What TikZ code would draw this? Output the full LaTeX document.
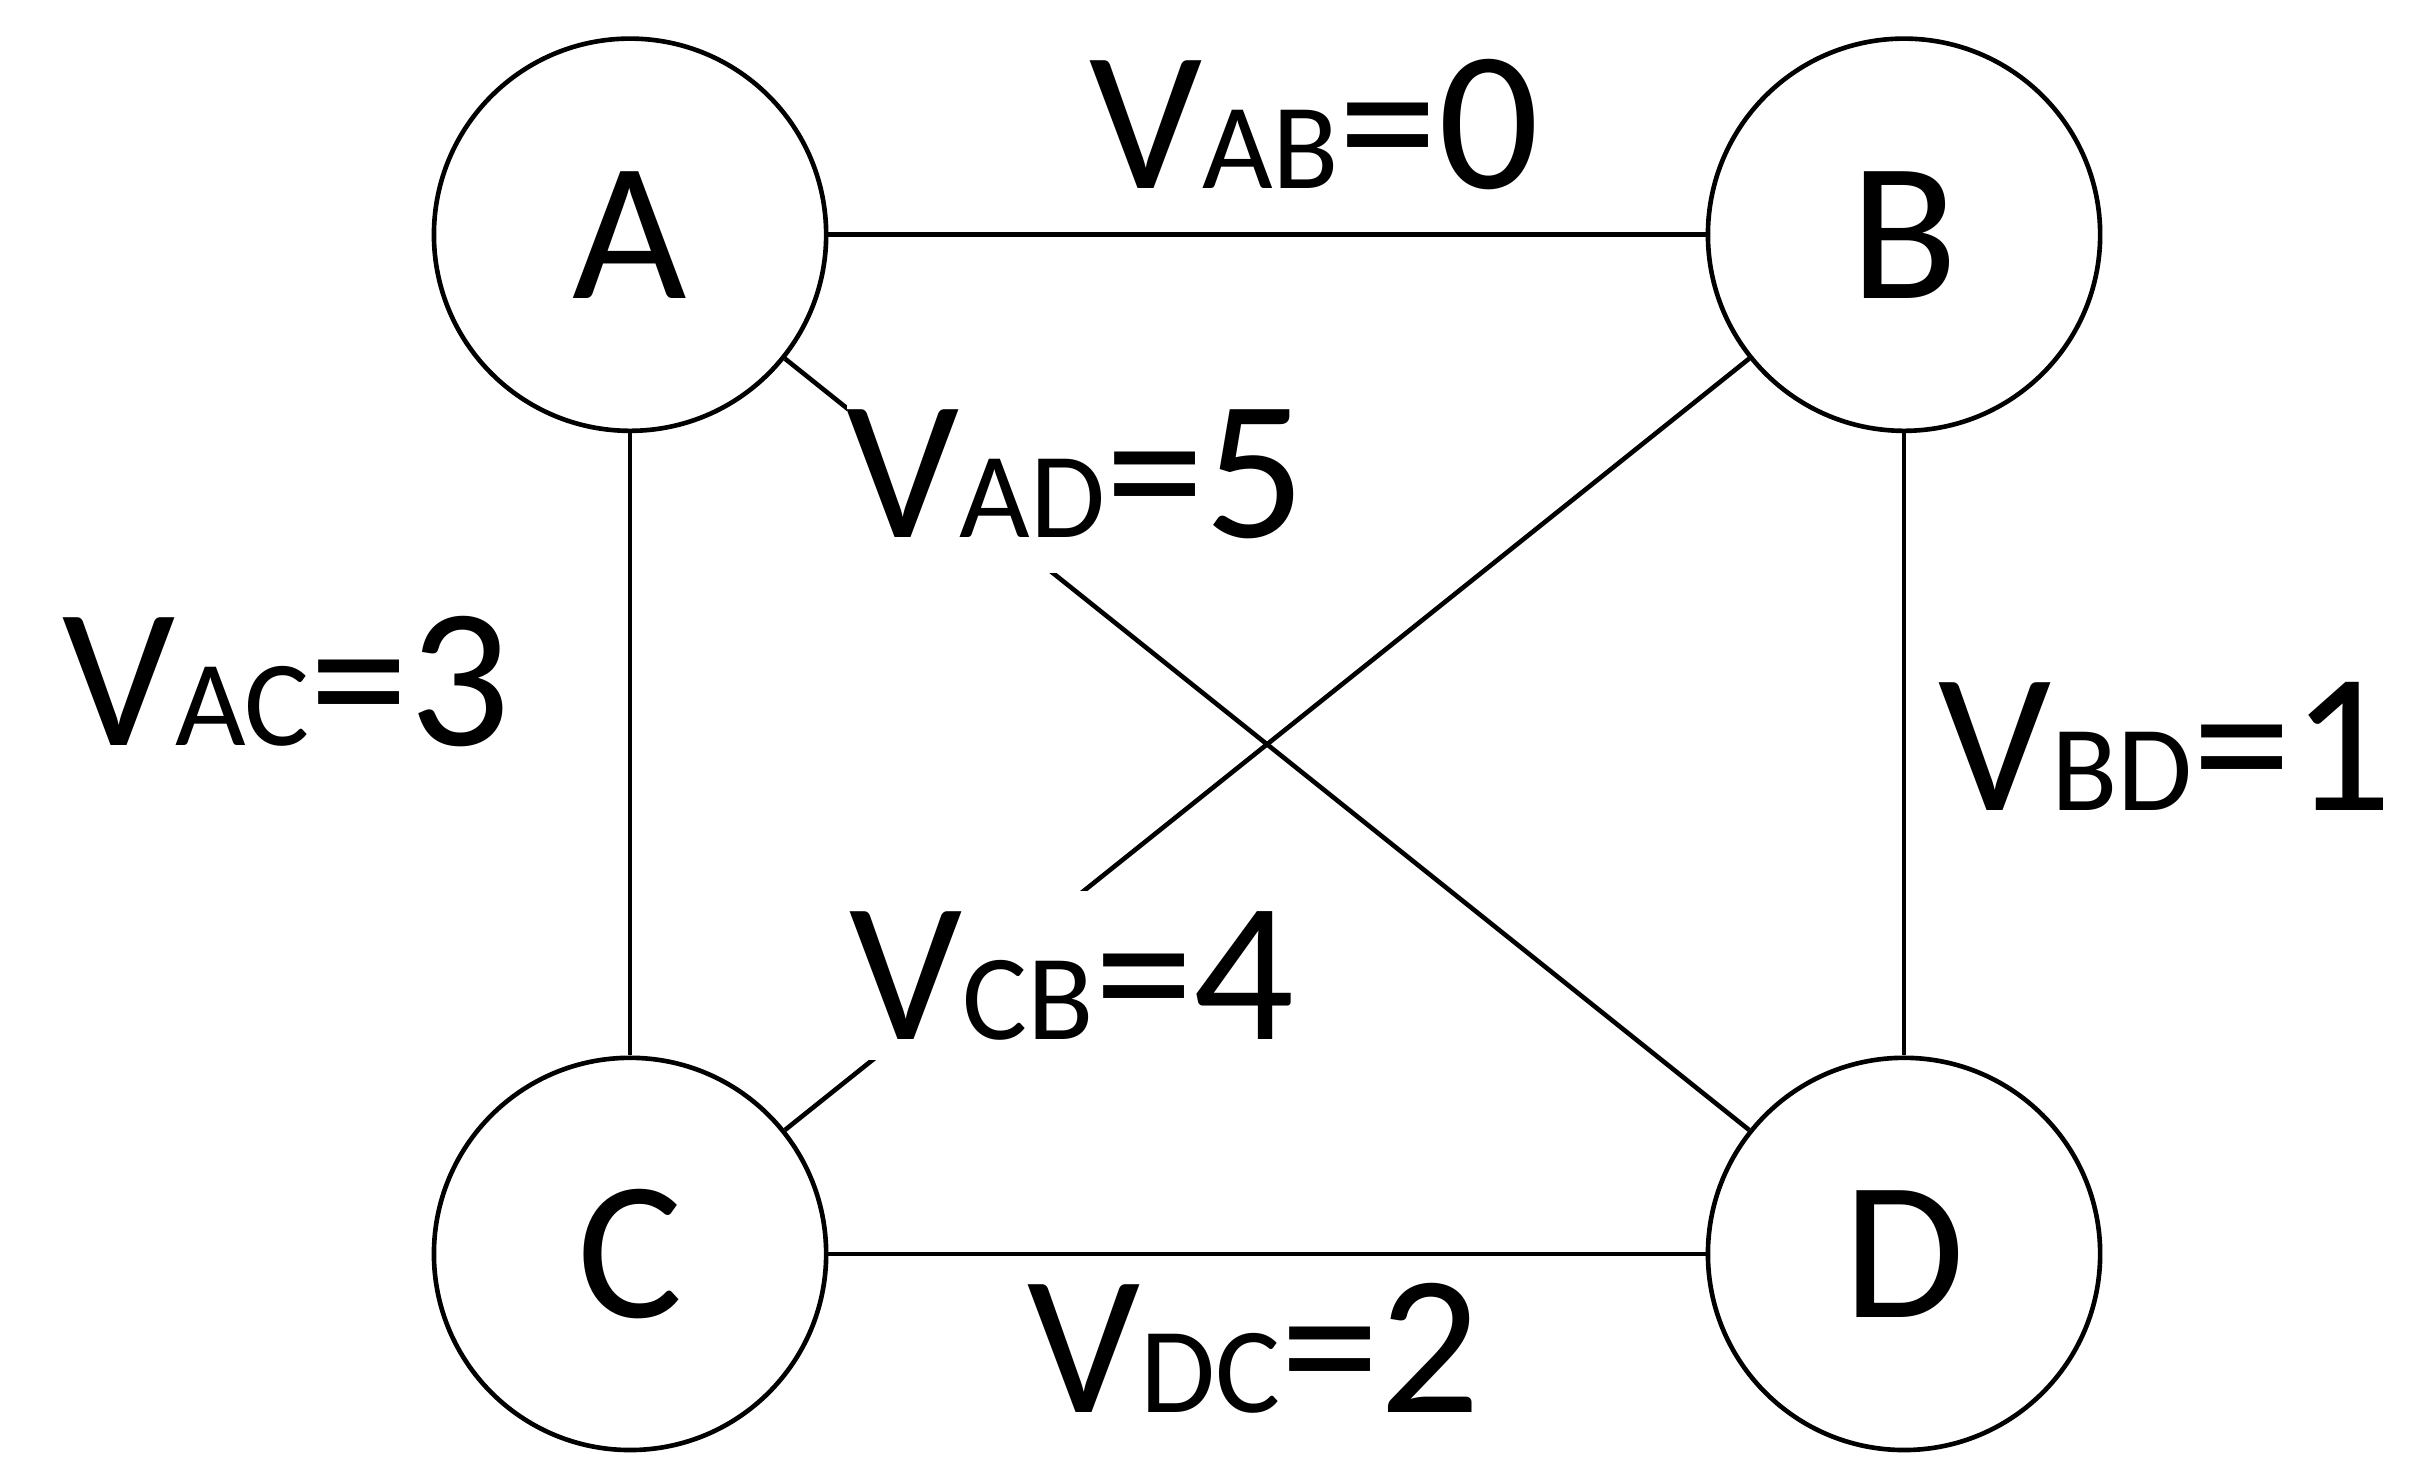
\documentclass[tikz,border=0pt]{standalone}
\usepackage{fontspec}
\setmainfont{Carlito}
\begin{document}
\begin{tikzpicture}[x=1pt,y=-1pt,
  st/.style={circle,draw,line width=3pt,minimum size=254pt,inner sep=0pt,font=\fontsize{128}{130}\selectfont},
  ed/.style={line width=3pt},
  lb/.style={anchor=base west,inner sep=0pt,font=\fontsize{129}{130}\selectfont},
  lbw/.style={lb,fill=white,inner ysep=16pt}]
\useasboundingbox (0,0) rectangle (1560,958);
\newcommand{\sbs}[1]{{\fontsize{79}{80}\selectfont #1}}
\node[st] (A) at (408,152) {A};
\node[st] (B) at (1233,152) {B};
\node[st] (C) at (408,812) {C};
\node[st] (D) at (1233,812) {D};
\draw[ed] (A)--(B);
\draw[ed] (A)--(C);
\draw[ed] (B)--(D);
\draw[ed] (C)--(D);
\draw[ed] (A)--(D);
\draw[ed] (C)--(B);
\node[lb] (lab) at (705,122) {V\sbs{AB}=0};
\node[lb] (lac) at (40,483) {V\sbs{AC}=3};
\node[lb] (lbd) at (1255,525) {V\sbs{BD}=1};
\node[lb] (ldc) at (665,915) {V\sbs{DC}=2};
\node[lbw,inner ysep=22pt] (lad) at (548,348) {V\sbs{AD}=5};
\node[lbw,inner ysep=13pt] (lcb) at (550,673) {V\sbs{CB}=4};
\end{tikzpicture}
\end{document}
